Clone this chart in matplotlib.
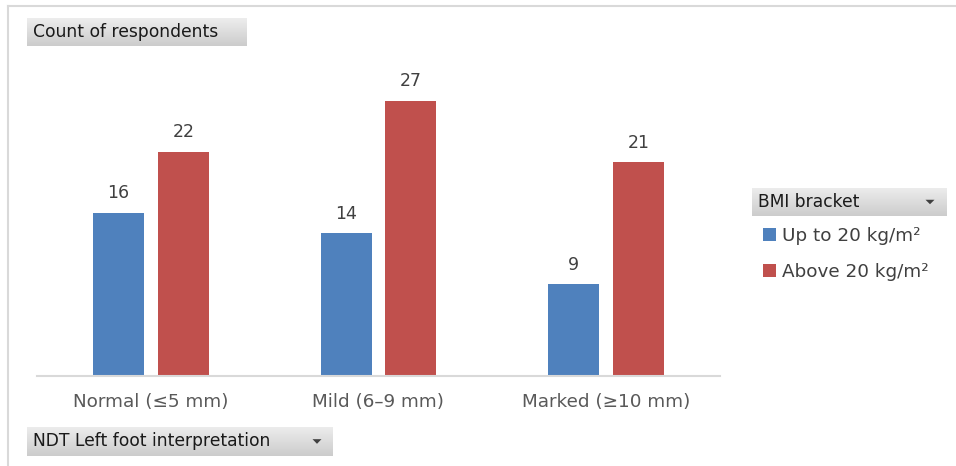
import matplotlib.pyplot as plt
import numpy as np
from matplotlib.lines import Line2D

# Respondent counts per NDT interpretation and BMI bracket
categories = ["Normal (≤5 mm)", "Mild (6–9 mm)", "Marked (≥10 mm)"]
series_names = ["Up to 20 kg/m²", "Above 20 kg/m²"]
up_to_20 = [16, 14, 9]
above_20 = [22, 27, 21]

colors = ["#4f81bd", "#c0504d"]
W, H = 956, 466

plt.rcParams["font.family"] = "DejaVu Sans"

fig = plt.figure(figsize=(W / 100, H / 100), dpi=100)
fig.patch.set_facecolor("white")


def px_box(x0, y0, x1, y1):
    """Figure-fraction rect from pixel coords (origin at top left)."""
    return [x0 / W, 1 - y1 / H, (x1 - x0) / W, (y1 - y0) / H]


# plot area
ax = fig.add_axes(px_box(37, 60, 720, 376))
x = np.arange(len(categories))
width = 0.224
offset = 0.1425
bars = []
for i, (vals, name) in enumerate(zip([up_to_20, above_20], series_names)):
    pos = x + (-offset if i == 0 else offset)
    b = ax.bar(pos, vals, width, color=colors[i], label=name)
    bars.append(b)
    for xi, v in zip(pos, vals):
        ax.annotate(str(v), (xi, v), xytext=(0, 7.5), textcoords="offset points",
                    ha="center", va="bottom", fontsize=12.5, color="#404040")

ax.set_xlim(-0.5, 2.5)
ax.set_ylim(0, 31)
ax.set_xticks(x)
ax.set_xticklabels(categories, fontsize=13.2, color="#595959")
ax.set_yticks([])
ax.tick_params(axis="x", length=0, pad=12)
for s in ["top", "right", "left"]:
    ax.spines[s].set_visible(False)
ax.spines["bottom"].set_color("#d9d9d9")
ax.spines["bottom"].set_linewidth(1.5)

# legend under the "BMI bracket" field button
ax.legend(handles=bars, loc="upper left", bbox_to_anchor=(754 / W, 1 - 218 / H),
          bbox_transform=fig.transFigure, frameon=False, fontsize=13.2,
          handlelength=0.7, handleheight=0.7, handletextpad=0.3,
          labelspacing=0.95, borderpad=0, labelcolor="#404040")

# outer chart border (top and left edges)
fig.add_artist(Line2D([8 / W, 8 / W], [0, 1 - 6 / H], transform=fig.transFigure,
                      color="#d9d9d9", lw=1.5))
fig.add_artist(Line2D([8 / W, 1], [1 - 6 / H, 1 - 6 / H], transform=fig.transFigure,
                      color="#d9d9d9", lw=1.5))


# pivot-chart field buttons with a grey gradient
def field_button(x0, y0, x1, y1, label, arrow=False):
    bax = fig.add_axes(px_box(x0, y0, x1, y1))
    grad = np.linspace(0.93, 0.80, 50).reshape(-1, 1)
    bax.imshow(np.dstack([grad, grad, grad]), aspect="auto",
               extent=[0, 1, 0, 1], interpolation="bilinear")
    bax.set_xlim(0, 1)
    bax.set_ylim(0, 1)
    bax.axis("off")
    bax.text(6 / (x1 - x0), 0.5, label, fontsize=12.3, color="#1a1a1a",
             ha="left", va="center")
    if arrow:
        ax_x = 1 - 16 / (x1 - x0)
        dx = 4.5 / (x1 - x0)
        bax.fill([ax_x - dx, ax_x + dx, ax_x], [0.58, 0.58, 0.42],
                 color="#404040", lw=0)


field_button(27, 18, 247, 46, "Count of respondents")
field_button(27, 427, 333, 456, "NDT Left foot interpretation", arrow=True)
field_button(752, 188, 946, 216, "BMI bracket", arrow=True)

fig.savefig("out.png", dpi=100)
